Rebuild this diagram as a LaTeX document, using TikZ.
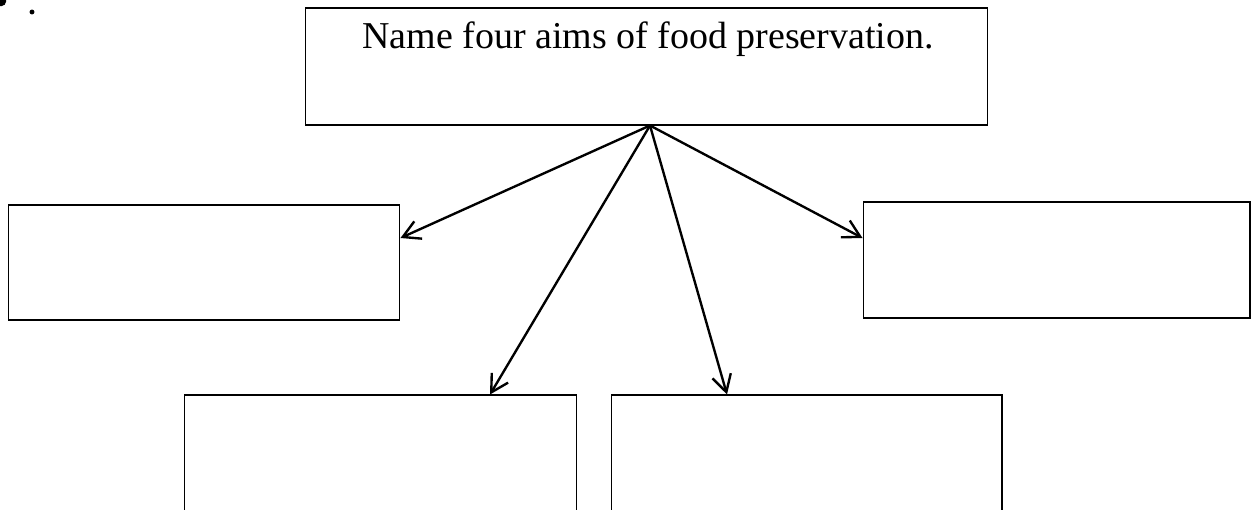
\documentclass[tikz,border=0pt]{standalone}
\usepackage{fontspec}
\setmainfont{Liberation Serif}
\usetikzlibrary{arrows.meta,positioning,calc}
\begin{document}
\begin{tikzpicture}[
x=0.02cm, y=-0.02cm,
box/.style={
draw,
line width=0.6pt,
inner sep=0pt
},
link/.style={-{Straight Barb[length=3.4mm,width=3.8mm]}, line width=1.35pt}
]
\useasboundingbox (0,0) rectangle (1257,510);
\fill (1,1) circle (3pt);
\fill (32,12) circle (1.4pt);
\node[box, minimum width=13.66cm, minimum height=2.34cm] (question) at (646.5,66.5) {};
\node[anchor=base, inner sep=0pt, font=\fontsize{21.6}{24}\selectfont] (qtext) at (648,49) {Name four aims of food preservation.};
\node[box, minimum width=7.84cm, minimum height=2.30cm] (aimleft) at (204,262.5) {};
\node[box, minimum width=7.74cm, minimum height=2.32cm] (aimright) at (1056.5,260) {};
\node[box, minimum width=7.86cm, minimum height=2.60cm] (aimlowleft) at (380.5,460) {};
\node[box, minimum width=7.82cm, minimum height=2.60cm] (aimlowright) at (806.5,460) {};
\coordinate (apex) at ($(question.south)+(3.5,0)$);
\draw[link] (apex) -- ($(aimleft.east)+(0,-24.5)$);
\draw[link] (apex) -- ($(aimright.west)+(0,-22)$);
\draw[link] (apex) -- ($(aimlowleft.north)+(109.5,0)$);
\draw[link] (apex) -- ($(aimlowright.north)+(-79.5,0)$);
\end{tikzpicture}
\end{document}
